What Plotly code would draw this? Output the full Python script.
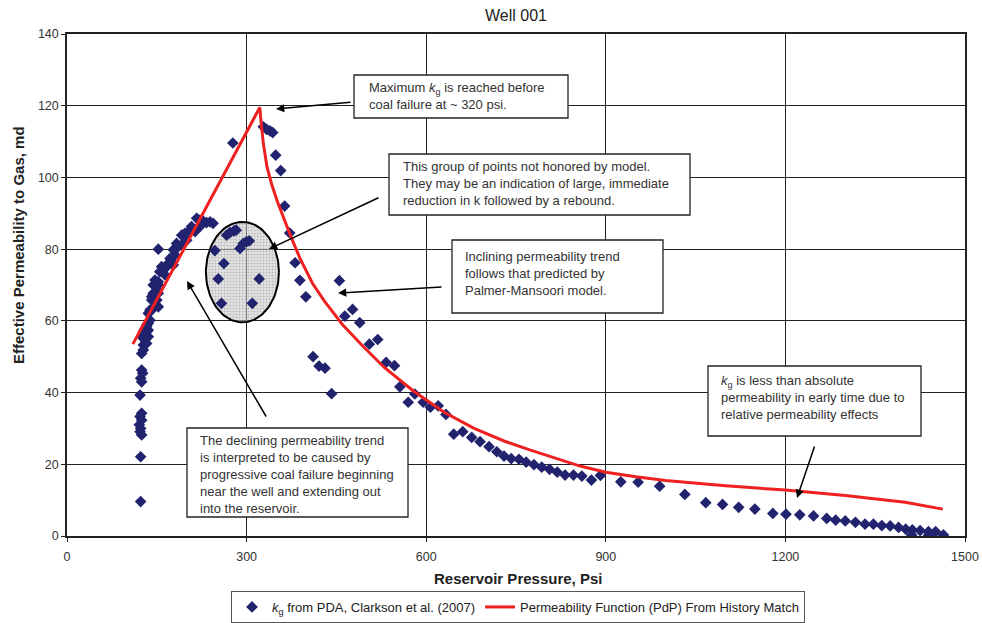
import numpy as np
import plotly.graph_objects as go

# Measured gas permeability (PDA) versus reservoir pressure
pda_pressure = [
    123, 123, 124.7, 122, 123, 120.8, 124.7, 122, 124.7, 122, 124.7, 123, 126.4, 124.7,
    124.7, 127.5, 127.5, 133, 130.3, 124.7, 135.8, 130.3, 127.5, 133, 135.8, 130.3, 133,
    133, 135.8, 138.6, 135.8, 138.6, 141.5, 152.5, 147, 141.5, 150, 141.5, 144, 144, 152.5,
    150, 152.5, 144, 150, 152.5, 147, 163.7, 155, 161, 158, 166.5, 177.6, 169, 175, 172,
    180.4, 177.6, 152.5, 186, 183, 194, 200, 191.6, 197, 202.6, 213.8, 217.7, 208, 222,
    233, 244, 239, 227, 222, 216.6,
    277,
    247, 262, 252.7, 258, 266.7, 272, 279, 282.6, 289, 294.5, 300, 304.5, 309.5, 321,
    328, 333.5, 339, 343.6, 348.6, 357, 363.5, 372, 381, 389, 399, 411, 421, 431, 442,
    455, 464, 477, 489, 505, 519, 533, 547, 556, 570, 581, 595, 607, 620, 633, 646, 661,
    676, 690, 705, 718, 730, 742, 755, 767, 780, 793, 806, 819, 832, 846, 860, 876, 891,
    925, 954, 990, 1032, 1067, 1095, 1122, 1149, 1179, 1201, 1224, 1247, 1269, 1284,
    1300, 1317, 1333, 1347, 1361, 1375, 1389, 1401, 1412, 1425, 1439, 1451, 1464, 1411,
    1439,
]
pda_kg = [
    9.6, 22.1, 28.2, 29.1, 30, 31, 32.3, 33.3, 34.2, 39.3, 43, 44, 45.4, 46.3,
    50.9, 51.9, 53.3, 53.7, 54.7, 55.6, 55.6, 56, 57, 57, 57.4, 57.9, 58.4,
    58.8, 59.3, 60.2, 62.1, 63, 63, 63.9, 65.3, 65.8, 65.8, 66.7, 67.2, 67.7, 67.7,
    68.6, 70, 70, 70.5, 70.9, 71.4, 72.8, 73.7, 74.2, 75.1, 75.1, 75.6, 76, 76.5, 77.4,
    78.4, 79.8, 80, 80.7, 81.6, 81.6, 82.5, 83.9, 84.4, 84.9, 84.9, 85.8, 86.3, 86.3,
    87.4, 87.2, 87.6, 87.9, 88.1, 88.6,
    109.6,
    79.6, 76, 71.7, 64.9, 83.9, 84.6, 85.1, 85.3, 80.2, 81.6, 82.1, 82.3, 64.9, 71.7,
    114.1, 113.4, 113, 112.5, 106.2, 101.9, 92, 84.5, 76.2, 71.3, 66.7, 50, 47.4, 46.8, 39.7,
    71.2, 61.3, 63.2, 59.5, 53.5, 54.8, 48.4, 47.5, 41.6, 37.3, 39.6, 37.3, 35.9, 36.3, 33.9, 28.4, 29.1,
    27.5, 26.3, 24.9, 23.5, 22.3, 21.6, 21.4, 20.6, 19.9, 19.2, 18.6, 17.8, 17.0, 17.0, 16.7, 15.6, 16.9,
    15.1, 15.0, 13.9, 11.6, 9.3, 8.8, 8.0, 7.5, 6.3, 6.1, 5.9, 5.6, 4.9, 4.4,
    4.2, 3.8, 3.3, 3.3, 2.9, 2.8, 2.4, 1.9, 1.7, 1.5, 1.2, 1.2, 0.3, 0.3,
    0.2,
]

# Permeability function (PdP) from the history match
model_pressure = [110, 322, 325, 328, 334, 342, 352, 362, 374, 389, 410, 430, 460, 494,
                  530, 578, 630, 680, 730, 773, 820, 857, 900, 950, 1000, 1100, 1200,
                  1300, 1400, 1463]
model_kg = [53.5, 119.5, 114, 109.5, 103, 98, 93, 88.5, 83.5, 77.5, 70.5, 65.5, 59, 53,
            47, 40.5, 34.5, 30, 26.5, 24, 21.5, 19.5, 17.8, 16.5, 15.5, 14, 12.8,
            11.3, 9.4, 7.5]

x_ticks = [0, 300, 600, 900, 1200, 1500]
y_ticks = [0, 20, 40, 60, 80, 100, 120, 140]

# Highlighted group of points (ellipse centre and half-axes, data units)
group_center = (293, 73.6)
group_radii = (61, 14)

FONT = "Liberation Sans, Arial, Helvetica, sans-serif"

# Plot-area geometry in pixels, used to place boxes and arrows
W, H = 982, 623
L, R, T, B = 67, 965, 34, 536


def px(x, y):
    return (x - L) / (R - L), (B - y) / (B - T)


fig = go.Figure()

theta = np.linspace(0, 2 * np.pi, 121)
fig.add_trace(go.Scatter(
    x=group_center[0] + group_radii[0] * np.cos(theta),
    y=group_center[1] + group_radii[1] * np.sin(theta),
    mode="lines", fill="toself",
    line=dict(color="black", width=2),
    fillcolor="rgba(200,200,200,0.55)",
    fillpattern=dict(shape=".", bgcolor="rgba(205,205,205,0.55)",
                     fgcolor="rgba(110,110,110,0.7)", size=3, solidity=0.35),
    showlegend=False, hoverinfo="skip",
))

fig.add_trace(go.Scatter(
    x=pda_pressure, y=pda_kg, mode="markers",
    marker=dict(symbol="diamond", size=9, color="#22236f"),
    name="<i>k</i><sub>g</sub> from PDA, Clarkson et al. (2007)",
))

fig.add_trace(go.Scatter(
    x=model_pressure, y=model_kg, mode="lines",
    line=dict(color="#ee2020", width=3),
    name="Permeability Function (PdP) From History Match",
))

boxes = [
    ((354, 75, 568, 118), (367, 96),
     "Maximum <i>k</i><sub>g</sub> is reached before<br>coal failure at ~ 320 psi."),
    ((389, 154, 690, 215), (401, 184),
     "This group of points not honored by model.<br>They may be an indication of large, immediate<br>reduction in k followed by a rebound."),
    ((452, 240, 663, 313), (463, 273),
     "Inclining permeability trend<br>follows that predicted by<br>Palmer-Mansoori model."),
    ((708, 366, 921, 436), (719, 397),
     "<i>k</i><sub>g</sub> is less than absolute<br>permeability in early time due to<br>relative permeability effects"),
    ((187, 428, 408, 517), (198, 474),
     "The declining permeability trend<br>is interpreted to be caused by<br>progressive coal failure beginning<br>near the well and extending out<br>into the reservoir."),
]

shapes = []
annotations = []
for (x0, y0, x1, y1), (tx, ty), text in boxes:
    a0, b0 = px(x0, y1)
    a1, b1 = px(x1, y0)
    shapes.append(dict(type="rect", xref="paper", yref="paper", x0=a0, y0=b0, x1=a1, y1=b1,
                       line=dict(color="#222", width=1.3), fillcolor="white", layer="above"))
    ax_, ay_ = px(tx, ty)
    annotations.append(dict(xref="paper", yref="paper", x=ax_, y=ay_, text=text,
                            showarrow=False, xanchor="left", yanchor="middle", align="left",
                            font=dict(family=FONT, size=13, color="#333")))

arrows = [
    ((352, 102), (276, 109)),
    ((380, 197), (269, 249)),
    ((443, 287), (338, 293)),
    ((815, 445), (797, 498)),
    ((267, 418), (187, 281)),
]
for (tx, ty), (hx, hy) in arrows:
    hx_p, hy_p = px(hx, hy)
    annotations.append(dict(xref="paper", yref="paper", x=hx_p, y=hy_p, text="",
                            showarrow=True, ax=tx - hx, ay=ty - hy,
                            arrowhead=2, arrowsize=1.1, arrowwidth=1.5, arrowcolor="black",
                            standoff=0))

# Axis titles placed in pixel space
xt, yt = px(518, 578)
annotations.append(dict(xref="paper", yref="paper", x=xt, y=yt,
                        text="<b>Reservoir Pressure, Psi</b>", showarrow=False,
                        xanchor="center", yanchor="middle",
                        font=dict(family=FONT, size=15, color="#222")))
xt, yt = px(19, 245)
annotations.append(dict(xref="paper", yref="paper", x=xt, y=yt, textangle=-90,
                        text="<b>Effective Permeability to Gas, md</b>", showarrow=False,
                        xanchor="center", yanchor="middle",
                        font=dict(family=FONT, size=15, color="#222")))

axis_common = dict(
    showgrid=True, gridcolor="#222", gridwidth=1.3,
    showline=True, linecolor="#222", linewidth=1.5, mirror=True,
    ticks="outside", ticklen=4, tickcolor="#222", tickwidth=1.2,
    zeroline=False, automargin=False,
    tickfont=dict(family=FONT, size=12.5, color="#333"),
)

fig.update_layout(
    width=W, height=H,
    margin=dict(l=L, r=W - R, t=T, b=H - B, autoexpand=False),
    paper_bgcolor="white", plot_bgcolor="white",
    title=dict(text="Well 001", x=516 / W, xanchor="center", xref="container",
               y=1 - 15 / H, yanchor="middle", yref="container",
               font=dict(family=FONT, size=16, color="#222")),
    xaxis=dict(range=[0, 1500], tickvals=x_ticks, ticklabelstandoff=4, **axis_common),
    yaxis=dict(range=[0, 140], tickvals=y_ticks, **axis_common),
    legend=dict(orientation="h", x=518 / W, xanchor="center", xref="container",
                y=(H - 607) / H, yanchor="middle", yref="container",
                bordercolor="#555", borderwidth=1, bgcolor="white",
                font=dict(family=FONT, size=13, color="#222"),
                itemwidth=30),
    shapes=shapes,
    annotations=annotations,
    showlegend=True,
)

fig.write_html("out.html")
